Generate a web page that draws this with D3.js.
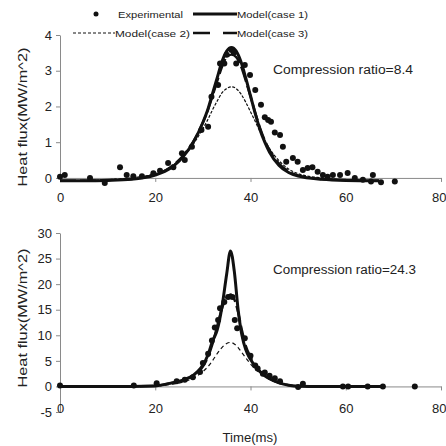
<!DOCTYPE html>
<html>
<head>
<meta charset="utf-8">
<script src="https://cdn.jsdelivr.net/npm/d3@7"></script>
<style>
  body { margin: 0; background: #fff; }
  svg { display: block; font-family: "Liberation Sans", Arial, sans-serif; }
</style>
</head>
<body>
<svg width="446" height="446"></svg>
<script>
// *** data ***
const xTicks = [0, 20, 40, 60, 80];
const topYTicks = [0, 1, 2, 3, 4];
const botYTicks = [-5, 0, 5, 10, 15, 20, 25, 30];

// compression ratio 8.4
const topTime = [0, 5, 10, 15, 20, 22, 24, 26, 28, 30, 31, 32, 33, 34, 35, 36, 37, 38, 39, 40, 41, 42, 43, 44, 46, 48, 50, 55, 60, 67];
const topCase1 = [-0.08, -0.08, -0.07, -0.04, 0.08, 0.18, 0.35, 0.62, 1.0, 1.55, 1.9, 2.35, 2.8, 3.25, 3.55, 3.65, 3.55, 3.25, 2.8, 2.3, 1.8, 1.35, 1.0, 0.72, 0.35, 0.15, 0.05, -0.04, -0.07, -0.08];
const topCase2 = [-0.08, -0.07, -0.05, 0, 0.12, 0.22, 0.38, 0.62, 0.95, 1.38, 1.62, 1.9, 2.15, 2.38, 2.5, 2.55, 2.5, 2.35, 2.12, 1.85, 1.58, 1.3, 1.05, 0.82, 0.48, 0.25, 0.12, 0, -0.05, -0.07];
const topCase3 = [-0.08, -0.08, -0.06, -0.03, 0.1, 0.2, 0.38, 0.65, 1.02, 1.55, 1.88, 2.28, 2.7, 3.1, 3.38, 3.45, 3.38, 3.12, 2.72, 2.28, 1.82, 1.4, 1.05, 0.78, 0.4, 0.18, 0.07, -0.03, -0.06, -0.08];
const topExp = [[0, 0.03], [1, 0.08], [6.3, 0], [9.4, -0.14], [12.6, 0.3], [14, 0.08], [15.4, 0.05], [17.2, 0.05], [19.6, 0.13], [21, 0.2], [22.7, 0.42], [23.8, 0.3], [25.6, 0.69], [26.2, 0.5], [27.7, 0.87], [29.7, 1.34], [31.1, 1.43], [31.8, 2.27], [33.2, 2.6], [33.6, 3.2], [34.5, 3.2], [35, 3.45], [36, 3.58], [36.5, 3.5], [37, 3.2], [38.8, 3.16], [39.9, 2.88], [41, 2.46], [42.2, 2.05], [43, 1.7], [43.7, 1.62], [44.3, 1.57], [45.1, 1.27], [46.2, 1.2], [46.8, 0.87], [47.5, 0.45], [48.9, 0.56], [49.9, 0.45], [51, 0.22], [52, 0.28], [53, 0.3], [54.1, 0.17], [55.2, 0.08], [56.2, 0.03], [57.3, 0.08], [58.8, 0.08], [60.4, 0.14], [61.9, 0], [63.6, -0.05], [65.3, -0.1], [65.7, 0.08], [67.4, -0.12], [70.3, -0.1]];

// compression ratio 24.3
const botTime = [0, 10, 20, 22, 24, 26, 28, 29, 30, 31, 32, 33, 34, 35, 35.8, 36.6, 37.4, 38.2, 39, 40, 41, 42, 43, 44, 46, 48, 50, 55, 60, 68];
const botCase1 = [0, 0, 0.1, 0.4, 0.8, 1.3, 2.2, 3, 4.2, 6, 8.8, 11, 15.5, 22, 26.5, 22.5, 15, 10, 7.2, 5.3, 3.9, 2.9, 2.1, 1.5, 0.7, 0.25, 0.05, 0, 0, 0];
const botCase2 = [0, 0, 0.1, 0.25, 0.5, 0.9, 1.6, 2.2, 2.9, 3.8, 5, 6.4, 7.6, 8.4, 8.6, 8.3, 7.6, 6.6, 5.6, 4.4, 3.4, 2.6, 2, 1.4, 0.7, 0.3, 0.1, 0, 0, 0];
const botCase3 = [0, 0, 0.1, 0.4, 0.8, 1.3, 2.1, 2.8, 3.9, 5.6, 8.2, 11.8, 15.2, 17.4, 18, 17, 14.5, 11, 8, 5.8, 4.1, 2.9, 2.1, 1.5, 0.7, 0.25, 0.05, 0, 0, 0];
const botExp = [[0, 0.2], [15.5, 0.2], [20.3, 0.6], [24.5, 1], [26.2, 1.3], [27.9, 1.8], [29.4, 2.8], [30, 4.6], [31.1, 6.4], [31.9, 9], [32.5, 11.5], [33.2, 13], [33.6, 15.3], [34.5, 16.5], [35.3, 17.5], [36.2, 17.5], [36.7, 13], [37.2, 11.4], [38.8, 9.4], [40, 6], [41, 4.1], [41.5, 3.5], [42.6, 2.5], [43, 2.7], [44, 2.1], [45.1, 1.6], [46.2, 1.0], [50, -0.1], [51, 0.5], [59.4, 0], [60.5, 0], [64.6, 0], [67.8, 0], [74.5, 0]];

const yTitle = 'Heat flux(MW/m^2)';

// *** drawing ***
const svg = d3.select('svg');
const ink = '#111';
const grey = '#8a8a8a';

const x = d3.scaleLinear().domain([0, 80]).range([60, 441]);
const plain = d => String(d);   // keep "-5" with a hyphen like the picture

const drawPanel = (opt) => {
    const y = d3.scaleLinear().domain(opt.yDomain).range(opt.yRange);
    const g = svg.append('g');

    // y axis
    const yAxis = g.append('g')
        .attr('transform', `translate(${x(0)},0)`)
        .call(d3.axisLeft(y).tickValues(opt.yTicks).tickFormat(plain)
            .tickSize(4).tickSizeOuter(0).tickPadding(4));
    // x axis at zero
    const xAxis = g.append('g')
        .attr('transform', `translate(0,${y(0)})`)
        .call(d3.axisBottom(x).tickValues(xTicks).tickFormat(plain)
            .tickSize(4).tickSizeOuter(0).tickPadding(opt.xPad));
    [yAxis, xAxis].forEach(a => {
        a.select('.domain').attr('stroke', grey).attr('stroke-width', 1);
        a.selectAll('.tick line').attr('stroke', grey);
        a.selectAll('.tick text').attr('fill', '#222').style('font-size', '13px');
    });
    // last label sits at the right edge
    xAxis.selectAll('.tick text').filter(d => d === 80)
        .attr('text-anchor', 'end').attr('dx', 5);

    const line = d3.line()
        .x(d => x(d[0]))
        .y(d => y(d[1]))
        .curve(d3.curveMonotoneX);
    const zip = (vals) => opt.time.map((t, i) => [t, vals[i]]);

    g.append('path').datum(zip(opt.case2))
        .attr('d', line).attr('fill', 'none')
        .attr('stroke', ink).attr('stroke-width', 1.2)
        .attr('stroke-dasharray', opt.dash2);
    g.append('path').datum(zip(opt.case3))
        .attr('d', line).attr('fill', 'none')
        .attr('stroke', ink).attr('stroke-width', 2.4)
        .attr('stroke-dasharray', '16,4');
    g.append('path').datum(zip(opt.case1))
        .attr('d', line).attr('fill', 'none')
        .attr('stroke', ink).attr('stroke-width', 3);

    g.append('g').selectAll('circle')
        .data(opt.exp)
        .enter()
        .append('circle')
        .attr('cx', d => x(d[0]))
        .attr('cy', d => y(d[1]))
        .attr('r', 3)
        .attr('fill', ink);

    g.append('text')
        .attr('x', 273).attr('y', opt.noteY)
        .attr('textLength', opt.noteLen).attr('lengthAdjust', 'spacingAndGlyphs')
        .attr('fill', '#222').style('font-size', '12px')
        .text(opt.note);

    g.append('text')
        .attr('transform', `translate(27,${opt.titleY}) rotate(-90)`)
        .attr('text-anchor', 'middle')
        .attr('textLength', 139).attr('lengthAdjust', 'spacingAndGlyphs')
        .attr('fill', '#222').style('font-size', '13px')
        .text(yTitle);
};

drawPanel({
    yDomain: [-0.1, 4], yRange: [181.5, 35], yTicks: topYTicks, xPad: 11,
    time: topTime, case1: topCase1, case2: topCase2, case3: topCase3, exp: topExp,
    dash2: '3,1.5', note: 'Compression ratio=8.4', noteY: 74, noteLen: 140, titleY: 117,
});
drawPanel({
    yDomain: [-5, 30], yRange: [412, 233], yTicks: botYTicks, xPad: 13,
    time: botTime, case1: botCase1, case2: botCase2, case3: botCase3, exp: botExp,
    dash2: '4,3', note: 'Compression ratio=24.3', noteY: 274, noteLen: 143, titleY: 318,
});

svg.append('text')
    .attr('x', 250).attr('y', 442)
    .attr('text-anchor', 'middle')
    .attr('textLength', 55).attr('lengthAdjust', 'spacingAndGlyphs')
    .attr('fill', '#222').style('font-size', '12px')
    .text('Time(ms)');

// *** legend ***
const legend = svg.append('g').style('font-size', '9.5px').attr('fill', '#222');
legend.append('circle').attr('cx', 96).attr('cy', 14).attr('r', 2.5).attr('fill', ink);
legend.append('text').attr('x', 118).attr('y', 17.5)
    .attr('textLength', 65).attr('lengthAdjust', 'spacingAndGlyphs').text('Experimental');
legend.append('line').attr('x1', 193).attr('x2', 237).attr('y1', 14).attr('y2', 14)
    .attr('stroke', ink).attr('stroke-width', 3);
legend.append('text').attr('x', 237).attr('y', 17.5)
    .attr('textLength', 71).attr('lengthAdjust', 'spacingAndGlyphs').text('Model(case 1)');
legend.append('line').attr('x1', 73).attr('x2', 115).attr('y1', 33).attr('y2', 33)
    .attr('stroke', ink).attr('stroke-width', 1).attr('stroke-dasharray', '3,2');
legend.append('text').attr('x', 115).attr('y', 36.5)
    .attr('textLength', 75).attr('lengthAdjust', 'spacingAndGlyphs').text('Model(case 2)');
legend.append('line').attr('x1', 193).attr('x2', 237).attr('y1', 33).attr('y2', 33)
    .attr('stroke', ink).attr('stroke-width', 2.4).attr('stroke-dasharray', '17,13');
legend.append('text').attr('x', 237).attr('y', 36.5)
    .attr('textLength', 71).attr('lengthAdjust', 'spacingAndGlyphs').text('Model(case 3)');
</script>
</body>
</html>
